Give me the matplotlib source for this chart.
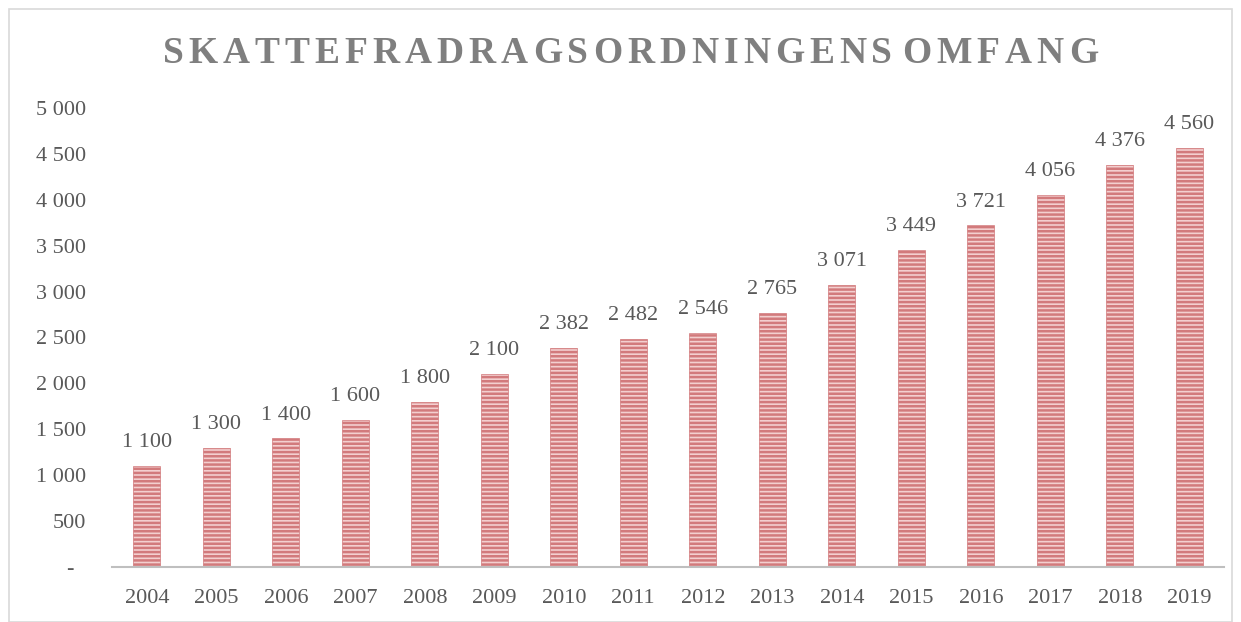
import matplotlib
matplotlib.use("Agg")
import matplotlib.pyplot as plt
from matplotlib.patches import Rectangle
from matplotlib.ticker import FuncFormatter

YEARS = [str(y) for y in range(2004, 2020)]
VALUES = [1100, 1300, 1400, 1600, 1800, 2100, 2382, 2482, 2546, 2765,
          3071, 3449, 3721, 4056, 4376, 4560]
TITLE = "SKATTEFRADRAGSORDNINGENS OMFANG"

TEXT_GRAY = "#595959"
plt.rcParams["font.family"] = ["Liberation Serif", "DejaVu Serif"]
plt.rcParams["hatch.linewidth"] = 1.8
plt.rcParams["hatch.color"] = "#C4494C"


def fmt(v, _pos=None):
    if v == 0:
        return "-  "
    return f"{int(round(v)):,}".replace(",", " ")


fig = plt.figure(figsize=(12.41, 6.22), dpi=100)
ax = fig.add_axes([0.0903, 0.0884, 0.8960, 0.7380])

x = range(len(YEARS))
bars = ax.bar(x, VALUES, width=0.39, color="#F3CFCF", edgecolor="#D27A7C",
              linewidth=0.5, hatch="----")
for rect, v in zip(bars, VALUES):
    ax.annotate(fmt(v), xy=(rect.get_x() + rect.get_width() / 2, v),
                xytext=(0, 10), textcoords="offset points",
                ha="center", va="bottom", fontsize=16, color=TEXT_GRAY)

ax.set_xlim(-0.5, len(YEARS) - 0.5)
ax.set_ylim(0, 5000)
ax.set_yticks(range(0, 5001, 500))
ax.yaxis.set_major_formatter(FuncFormatter(fmt))
ax.set_xticks(list(x))
ax.set_xticklabels(YEARS)
ax.tick_params(axis="both", length=0, labelsize=16, labelcolor=TEXT_GRAY)
ax.tick_params(axis="x", pad=16)
ax.tick_params(axis="y", pad=19)

for s in ["top", "right", "left"]:
    ax.spines[s].set_visible(False)
ax.spines["bottom"].set_color("#BFBFBF")
ax.spines["bottom"].set_linewidth(1.5)

# title with wide letter spacing: place letters one by one
renderer = fig.canvas.get_renderer()
title_kw = dict(fontsize=27, fontweight="bold", color="#7F7F7F", va="center", ha="left")
left_px, right_px, y_title = 163, 1098, 0.914
widths = []
for ch in TITLE:
    if ch == " ":
        widths.append(None)
        continue
    t = fig.text(0, 0, ch, **title_kw)
    widths.append(t.get_window_extent(renderer).width)
    t.remove()
space_w = 0.0
natural = sum(w if w is not None else space_w for w in widths)
gap = (right_px - left_px - natural) / (len(TITLE) - 1)
cur = left_px
W = fig.get_figwidth() * fig.dpi
for ch, w in zip(TITLE, widths):
    if w is None:
        cur += space_w + gap
        continue
    fig.text(cur / W, y_title, ch, **title_kw)
    cur += w + gap

fig.patches.append(Rectangle((0.007, 0.0), 0.986, 0.985, transform=fig.transFigure,
                             fill=False, edgecolor="#D9D9D9", linewidth=1.2))

fig.savefig("out.png", dpi=100)
